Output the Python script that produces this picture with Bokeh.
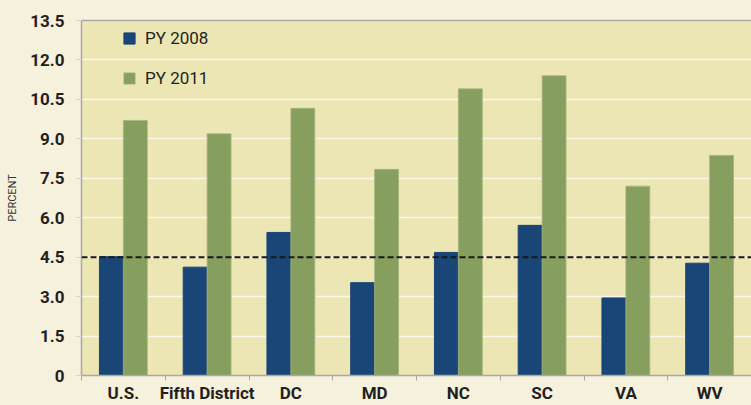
from bokeh.plotting import figure
from bokeh.models import (Range1d, LinearAxis, FixedTicker, Span,
                          Legend, LegendItem, ColumnDataSource)
from bokeh.transform import dodge
from bokeh.embed import file_html
from bokeh.resources import INLINE

# ---- data ----
categories = ["U.S.", "Fifth District", "DC", "MD", "NC", "SC", "VA", "WV"]
py2008 = [4.52, 4.12, 5.44, 3.53, 4.68, 5.71, 2.95, 4.27]
py2011 = [9.70, 9.19, 10.16, 7.84, 10.90, 11.40, 7.20, 8.37]
series_names = ["PY 2008", "PY 2011"]
y_ticks = [0, 1.5, 3.0, 4.5, 6.0, 7.5, 9.0, 10.5, 12.0, 13.5]
y_tick_labels = ["0", "1.5", "3.0", "4.5", "6.0", "7.5", "9.0", "10.5", "12.0", "13.5"]
benchmark = 4.5
y_axis_title = "PERCENT"

# ---- style ----
BLUE = "#1a4677"
GREEN = "#879f5e"
PLOT_BG = "#ece5b4"
OUTER_BG = "#f6f1dd"
AXIS_GRAY = "#a8a8a8"
TEXT = "#231f20"
FONT = "Roboto"

n = len(categories)
centers = [i + 0.5 for i in range(n)]
bounds = [float(i) for i in range(n + 1)]
src = ColumnDataSource(dict(x=centers, v08=py2008, v11=py2011))

p = figure(x_range=Range1d(0, n), y_range=Range1d(0, y_ticks[-1]),
           width=751, height=405, output_backend="svg", toolbar_location=None,
           x_axis_location=None, min_border_left=81, min_border_right=0,
           min_border_top=20, min_border_bottom=29)
p.background_fill_color = PLOT_BG
p.border_fill_color = OUTER_BG
p.outline_line_color = None

bw = 0.2857
r08 = p.vbar(x=dodge("x", -bw / 2), top="v08", width=bw,
             source=src, fill_color=BLUE, line_color=BLUE)
r11 = p.vbar(x=dodge("x", bw / 2), top="v11", width=bw,
             source=src, fill_color=GREEN, line_color="#a5b57f", line_width=0.8)

# grid
p.xgrid.visible = False
p.ygrid.ticker = FixedTicker(ticks=y_ticks)
p.ygrid.grid_line_color = "#fbf8ea"
p.ygrid.grid_line_width = 1.5

# y axis
ya = p.yaxis[0]
ya.ticker = FixedTicker(ticks=y_ticks)
ya.major_label_overrides = {t: l for t, l in zip(y_ticks, y_tick_labels)}
ya.major_label_text_font = FONT
ya.major_label_text_font_style = "bold"
ya.major_label_text_font_size = "17px"
ya.major_label_text_color = TEXT
ya.major_label_standoff = 12
ya.major_tick_out = 5
ya.major_tick_in = 0
ya.minor_tick_out = 0
ya.minor_tick_in = 0
ya.major_tick_line_color = "#d8d4c4"
ya.axis_line_color = AXIS_GRAY
ya.axis_line_width = 1.5
ya.axis_label = y_axis_title
ya.axis_label_text_font = FONT
ya.axis_label_text_font_style = "normal"
ya.axis_label_text_font_size = "11px"
ya.axis_label_text_color = "#333333"
ya.axis_label_standoff = 8

# x axis: labels at category centres, small ticks at category boundaries
xa = LinearAxis(ticker=FixedTicker(ticks=centers, minor_ticks=bounds),
                major_label_overrides={c: cat for c, cat in zip(centers, categories)})
xa.major_tick_out = 0
xa.major_tick_in = 0
xa.minor_tick_out = 5
xa.minor_tick_in = 0
xa.minor_tick_line_color = AXIS_GRAY
xa.axis_line_color = AXIS_GRAY
xa.axis_line_width = 1.5
xa.major_label_text_font = FONT
xa.major_label_text_font_style = "bold"
xa.major_label_text_font_size = "17px"
xa.major_label_text_color = TEXT
xa.major_label_standoff = 2
p.add_layout(xa, "below")

# top border line
ta = LinearAxis(ticker=FixedTicker(ticks=[]))
ta.major_tick_out = 0
ta.major_tick_in = 0
ta.minor_tick_out = 0
ta.minor_tick_in = 0
ta.major_label_text_font_size = "0px"
ta.axis_line_color = AXIS_GRAY
ta.axis_line_width = 1.5
p.add_layout(ta, "above")

# benchmark dashed line
p.add_layout(Span(location=benchmark, dimension="width", line_color="#1a1a1a",
                  line_width=2, line_dash="6 3"))

legend = Legend(items=[LegendItem(label=series_names[0], renderers=[r08]),
                       LegendItem(label=series_names[1], renderers=[r11])],
                location=(41, 287), padding=0, margin=0, spacing=20,
                label_height=20, glyph_height=14, glyph_width=14,
                label_standoff=9, border_line_color=None,
                background_fill_alpha=0)
legend.label_text_font = FONT
legend.label_text_font_size = "17px"
legend.label_text_color = TEXT
p.add_layout(legend)

html = file_html(p, INLINE)
html = html.replace("<body>", '<body style="background-color:%s;">' % OUTER_BG)
open("out.html", "w").write(html)
